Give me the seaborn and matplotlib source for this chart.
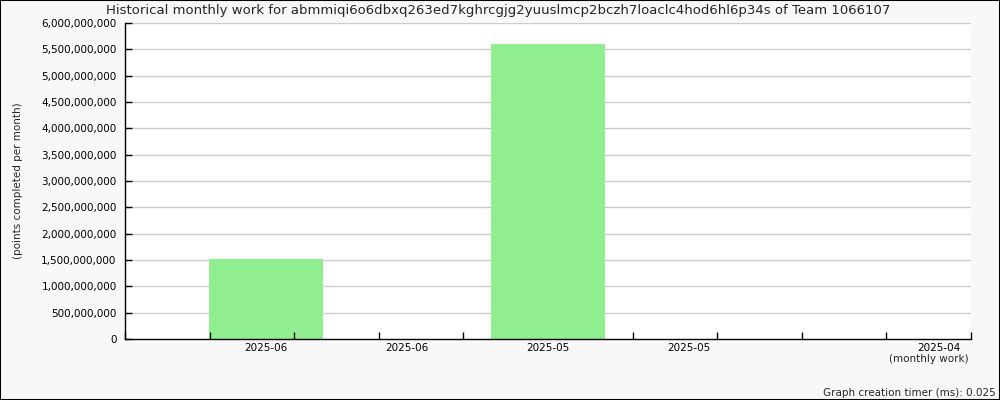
import matplotlib
matplotlib.use("Agg")
import matplotlib.pyplot as plt
import numpy as np
import pandas as pd
import seaborn as sns
from matplotlib.patches import Rectangle
from matplotlib.ticker import FuncFormatter

# data
slots = [0, 1, 2, 3, 4]
months = ["2025-06", "2025-06", "2025-05", "2025-05", "2025-04"]
work = [1.52e9, 0, 5.6e9, 0, 0]
label_pos = [0, 1, 2, 3, 4.77]

TITLE = "Historical monthly work for abmmiqi6o6dbxq263ed7kghrcgjg2yuuslmcp2bczh7loaclc4hod6hl6p34s of Team 1066107"

sns.set_style("white")
plt.rcParams["font.family"] = ["DejaVu Sans"]

df = pd.DataFrame({"slot": slots, "work": work})

fig = plt.figure(figsize=(10, 4), dpi=100, facecolor="#f8f8f8")
ax = fig.add_axes([0.125, 0.1525, 0.846, 0.79])
ax.set_facecolor("white")

sns.barplot(data=df, x="slot", y="work", order=slots, color="#90ee90",
            saturation=1, width=0.81, ax=ax, linewidth=0, zorder=1)

ax.set_xlim(-1, 5)
ax.set_ylim(0, 6e9)
yticks = np.arange(0, 6.01e9, 5e8)
ax.set_yticks(yticks)
ax.yaxis.set_major_formatter(FuncFormatter(lambda v, _: f"{v:,.0f}"))
# grid behind the bars, tick marks on top of them
ax.grid(False)
ax.hlines(yticks[1:], -1, 5, color="#cccccc", lw=1, zorder=0.5)
ax.set_axisbelow(False)

ax.set_xticks(label_pos)
ax.set_xticklabels(months)
ax.set_xticks(np.arange(-1, 5.01, 0.6), minor=True)
ax.tick_params(axis="x", which="major", bottom=True, length=0, pad=3,
               labelsize=7.5, colors="black")
ax.tick_params(axis="x", which="minor", bottom=True, direction="in",
               length=5, width=1, color="black")
ax.tick_params(axis="y", which="major", left=True, direction="in", length=5,
               width=1, color="black", labelsize=7.5, labelcolor="black", pad=6)

for s in ["top", "right"]:
    ax.spines[s].set_visible(False)
for s in ["left", "bottom"]:
    ax.spines[s].set_color("black")
    ax.spines[s].set_linewidth(1)

ax.set_xlabel("")
ax.set_ylabel("(points completed per month)", fontsize=7.5)
ax.yaxis.set_label_coords(-0.1206, 0.5)

fig.text(0.498, 0.973, TITLE, ha="center", va="center", fontsize=9.5)
fig.text(0.969, 0.103, "(monthly work)", ha="right", va="center", fontsize=7.5)
fig.text(0.996, 0.017, "Graph creation timer (ms): 0.025", ha="right",
         va="center", fontsize=7.5)

fig.patches.append(Rectangle((0, 0), 1, 1, transform=fig.transFigure, fill=False,
                             edgecolor="black", lw=1.5, zorder=10))

fig.savefig("out.png", dpi=100, facecolor=fig.get_facecolor())
